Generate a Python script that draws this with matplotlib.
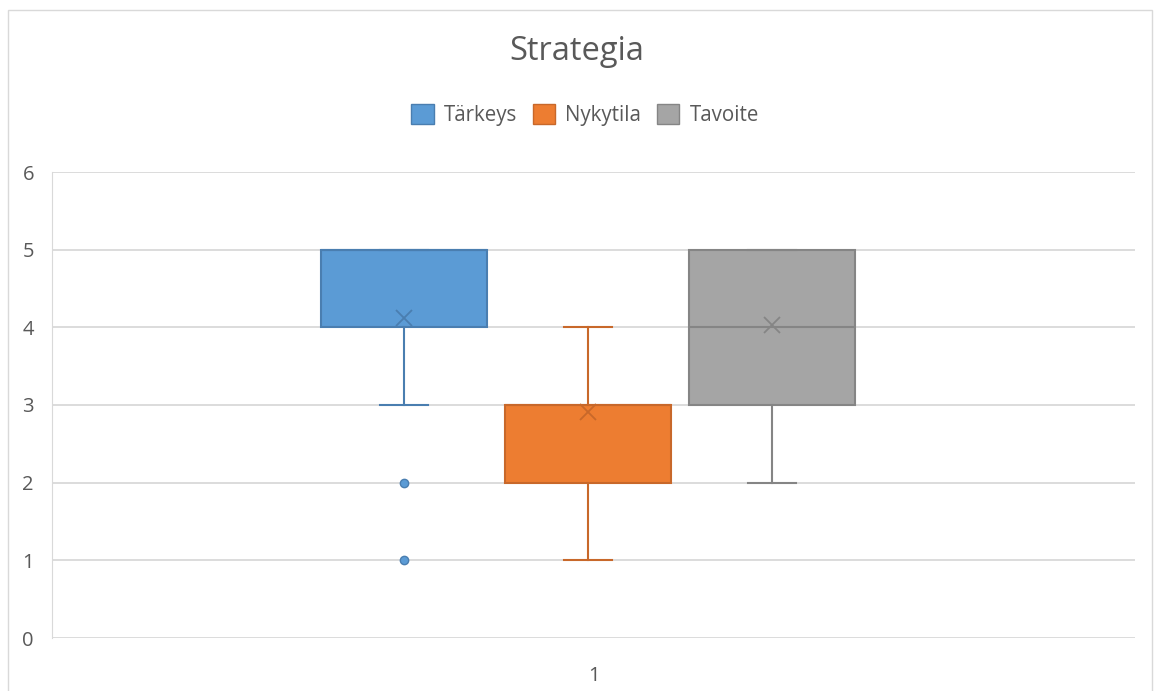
import matplotlib.pyplot as plt
from matplotlib.patches import Rectangle, Patch

plt.rcParams['font.family'] = ['Open Sans', 'DejaVu Sans']

series = ['Tärkeys', 'Nykytila', 'Tavoite']
q1 = [4, 2, 3]
q3 = [5, 3, 5]
med = [5, 3, 4]
means = [4.12, 2.91, 4.03]
whislo = [3, 1, 2]
whishi = [5, 4, 5]
fliers = [[2, 1], [], []]
face = ['#5B9BD5', '#ED7D31', '#A5A5A5']
edge = ['#4A7EB0', '#C8682A', '#858585']
category = ['1']

W, H = 1154, 691
fig = plt.figure(figsize=(W / 100, H / 100), dpi=100)
fig.patches.append(Rectangle((8 / W, -0.01), (1152 - 8) / W, 1 - 10 / H + 0.01,
                             transform=fig.transFigure, fill=False,
                             edgecolor='#D9D9D9', lw=1))
ax = fig.add_axes([52 / W, 1 - 638 / H, (1135 - 52) / W, (638 - 172) / H])

positions = [-1, 0, 1]
handles = []
for i in range(len(series)):
    st = [dict(q1=q1[i], q3=q3[i], med=med[i], mean=means[i],
               whislo=whislo[i], whishi=whishi[i], fliers=fliers[i])]
    ax.bxp(st, positions=[positions[i]], widths=0.9, patch_artist=True,
           showmeans=True, manage_ticks=False,
           boxprops=dict(facecolor=face[i], edgecolor=edge[i], lw=1.5),
           medianprops=dict(color=edge[i], lw=1.5),
           whiskerprops=dict(color=edge[i], lw=1.5),
           capprops=dict(color=edge[i], lw=1.5),
           capwidths=0.26,
           meanprops=dict(marker='x', markeredgecolor=edge[i], markersize=12, mew=1.3),
           flierprops=dict(marker='o', markerfacecolor=face[i], markeredgecolor=edge[i],
                           markersize=6))
    handles.append(Patch(facecolor=face[i], edgecolor=edge[i], label=series[i]))

ax.set_xlim(-2.913, 2.973)
ax.set_ylim(0, 6)
ax.set_yticks(range(7))
ax.set_xticks([0.03])
ax.set_xticklabels(category)
ax.grid(axis='y', color='#D9D9D9', lw=1.3)
ax.set_axisbelow(True)
for s in ['top', 'right', 'bottom']:
    ax.spines[s].set_visible(False)
ax.spines['left'].set_color('#D9D9D9')
ax.tick_params(length=0, labelsize=14.5, colors='#595959', pad=13)
ax.tick_params(axis='x', pad=20)

fig.text(0.5, 1 - 51 / H, 'Strategia', ha='center', va='center', fontsize=23.5, color='#595959')
fig.legend(handles=handles, loc='center', bbox_to_anchor=(585 / W, 1 - 115 / H), ncol=3,
           frameon=False, fontsize=14.8, labelcolor='#595959', handlelength=1.1,
           handleheight=1.1, handletextpad=0.5, columnspacing=0.75)

fig.savefig('out.png', dpi=100)
